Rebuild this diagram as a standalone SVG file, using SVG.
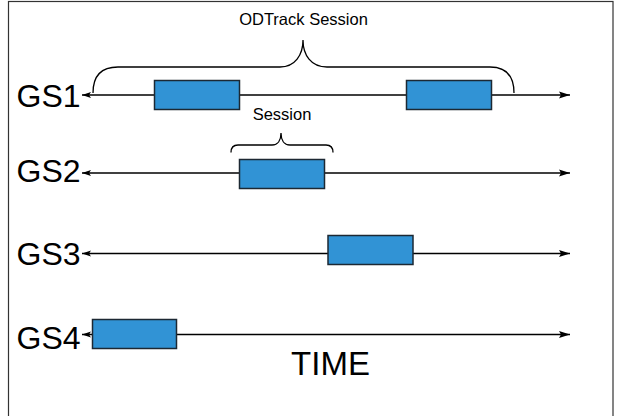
<svg xmlns="http://www.w3.org/2000/svg" width="617" height="416" viewBox="0 0 617 416">
  <style>
    .frame { fill: #ffffff; stroke: #333333; stroke-width: 1.2; }
    .axis { fill: none; stroke: #000000; stroke-width: 1.4; }
    .brace { fill: none; stroke: #000000; stroke-width: 1.3; }
    .box { fill: #3193d5; stroke: #1c2833; stroke-width: 1.5; }
    .label { font-family: "Liberation Sans", Arial, sans-serif; fill: #000000; }
    .gs { font-size: 32px; }
    .small { font-size: 16.5px; text-anchor: middle; }
    .time { font-size: 33px; text-anchor: middle; }
  </style>
  <defs>
    <marker id="headEnd" markerWidth="12" markerHeight="8" refX="11" refY="4" orient="auto" markerUnits="userSpaceOnUse">
      <path d="M0,0.5 L11,4 L0,7.5 L2,4 Z" fill="#000000"/>
    </marker>
    <marker id="headStart" markerWidth="10" markerHeight="7" refX="0" refY="3.5" orient="auto" markerUnits="userSpaceOnUse">
      <path d="M0,3.5 L9,0.5 L7,3.5 L9,6.5 Z" fill="#000000"/>
    </marker>
  </defs>

  <rect class="frame" x="8.5" y="1.5" width="604.5" height="430"/>

  <!-- time axes, one per ground station -->
  <g id="connectors">
    <line class="axis" x1="82" y1="95" x2="570" y2="95" marker-start="url(#headStart)" marker-end="url(#headEnd)"/>
    <line class="axis" x1="82" y1="173" x2="570" y2="173" marker-start="url(#headStart)" marker-end="url(#headEnd)"/>
    <line class="axis" x1="82" y1="253.5" x2="570" y2="253.5" marker-start="url(#headStart)" marker-end="url(#headEnd)"/>
    <line class="axis" x1="82" y1="334.5" x2="570" y2="334.5" marker-start="url(#headStart)" marker-end="url(#headEnd)"/>
  </g>

  <!-- braces -->
  <g id="odtrack-brace">
    <path class="brace" d="M93,93 Q93,67 118,67 L280,67 C295,67 303,55 303,40 C303,55 311,67 327,67 L490,67 Q514,67 514,93"/>
    <text class="label small" x="303.5" y="25">ODTrack Session</text>
  </g>
  <g id="session-brace">
    <path class="brace" d="M231,152.5 Q231,145 238,145 L272,145 C278,145 281,140 281,133 C281,140 284,145 290,145 L326,145 Q333,145 333,152.5"/>
    <text class="label small" x="282" y="120">Session</text>
  </g>

  <!-- ground station rows -->
  <g id="gs1">
    <text class="label gs" x="16.5" y="107">GS1</text>
    <rect class="box" x="154.5" y="80.5" width="85" height="29"/>
    <rect class="box" x="406.5" y="80.5" width="85" height="29"/>
  </g>
  <g id="gs2">
    <text class="label gs" x="16.5" y="182">GS2</text>
    <rect class="box" x="239.5" y="159.5" width="85" height="29"/>
  </g>
  <g id="gs3">
    <text class="label gs" x="16.5" y="265">GS3</text>
    <rect class="box" x="328" y="235.5" width="85" height="29"/>
  </g>
  <g id="gs4">
    <text class="label gs" x="16.5" y="349">GS4</text>
    <rect class="box" x="92.5" y="319.5" width="84" height="29"/>
  </g>

  <text id="time" class="label time" x="330.5" y="375">TIME</text>
</svg>
